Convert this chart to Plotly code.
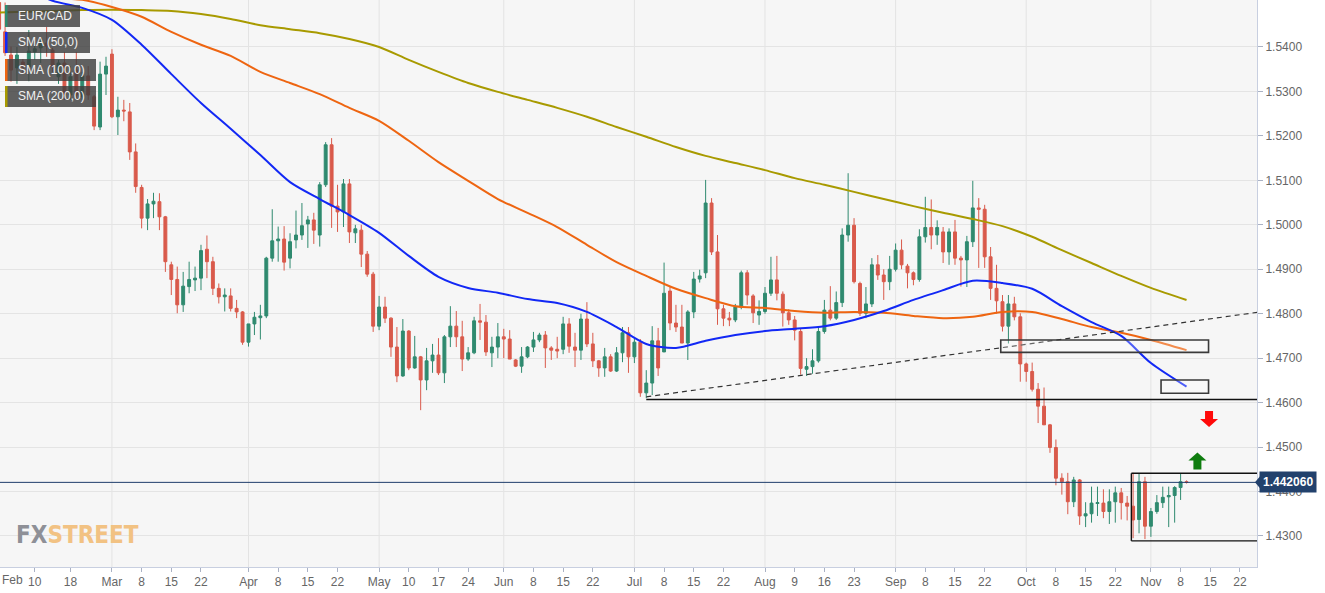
import pandas as pd
import plotly.graph_objects as go

# ---------------- data (EUR/CAD daily) ----------------
dates = pd.bdate_range("2021-02-01", "2021-11-09")

opens = [
    1.5480, 1.5500, 1.5434, 1.5382, 1.5353, 1.5366, 1.5355, 1.5389, 1.5398, 1.5409,
    1.5393, 1.5333, 1.5364, 1.5292, 1.5348, 1.5288, 1.5335, 1.5288, 1.5220, 1.5339,
    1.5384, 1.5243, 1.5258, 1.5254, 1.5164, 1.5084, 1.5015, 1.5047, 1.5052, 1.5018,
    1.4910, 1.4877, 1.4820, 1.4861, 1.4876, 1.4880, 1.4945, 1.4917, 1.4857, 1.4838,
    1.4840, 1.4812, 1.4804, 1.4736, 1.4777, 1.4791, 1.4795, 1.4925, 1.4964, 1.4968,
    1.4925, 1.4966, 1.4977, 1.5002, 1.5011, 1.4977, 1.5090, 1.5180, 1.5042, 1.5029,
    1.5092, 1.4982, 1.4988, 1.4934, 1.4889, 1.4772, 1.4815, 1.4790, 1.4725, 1.4660,
    1.4761, 1.4678, 1.4703, 1.4651, 1.4694, 1.4707, 1.4667, 1.4748, 1.4772, 1.4748,
    1.4698, 1.4712, 1.4784, 1.4781, 1.4712, 1.4725, 1.4748, 1.4743, 1.4696, 1.4682,
    1.4703, 1.4725, 1.4741, 1.4752, 1.4723, 1.4720, 1.4720, 1.4777, 1.4725, 1.4718,
    1.4788, 1.4732, 1.4694, 1.4678, 1.4703, 1.4671, 1.4712, 1.4757, 1.4703, 1.4736,
    1.4622, 1.4644, 1.4739, 1.4714, 1.4851, 1.4779, 1.4770, 1.4734, 1.4804, 1.4878,
    1.4892, 1.5049, 1.4939, 1.4811, 1.4790, 1.4786, 1.4815, 1.4892, 1.4840, 1.4797,
    1.4805, 1.4846, 1.4876, 1.4844, 1.4802, 1.4786, 1.4760, 1.4675, 1.4681, 1.4694,
    1.4760, 1.4808, 1.4790, 1.4825, 1.4977, 1.4999, 1.4868, 1.4801, 1.4822, 1.4910,
    1.4887, 1.4872, 1.4900, 1.4943, 1.4907, 1.4892, 1.4877, 1.4973, 1.4994, 1.4977,
    1.4984, 1.4939, 1.4984, 1.4925, 1.4921, 1.4962, 1.5038, 1.5035, 1.4928, 1.4857,
    1.4827, 1.4772, 1.4822, 1.4793, 1.4687, 1.4670, 1.4630, 1.4592, 1.4550, 1.4499,
    1.4430, 1.4422, 1.4377, 1.4426, 1.4345, 1.4350, 1.4373, 1.4374, 1.4355, 1.4377,
    1.4397, 1.4374, 1.4367, 1.4337, 1.4422, 1.4322, 1.4355, 1.4375, 1.4388, 1.4391,
    1.4409, 1.4422,
]
highs = [
    1.5520, 1.5530, 1.5500, 1.5401, 1.5400, 1.5373, 1.5438, 1.5407, 1.5418, 1.5445,
    1.5398, 1.5371, 1.5389, 1.5357, 1.5389, 1.5344, 1.5357, 1.5292, 1.5367, 1.5378,
    1.5395, 1.5288, 1.5281, 1.5274, 1.5183, 1.5090, 1.5058, 1.5072, 1.5071, 1.5020,
    1.4917, 1.4906, 1.4894, 1.4917, 1.4906, 1.4955, 1.4976, 1.4928, 1.4868, 1.4857,
    1.4857, 1.4831, 1.4806, 1.4777, 1.4804, 1.4820, 1.4928, 1.5035, 1.4996, 1.4997,
    1.4981, 1.5032, 1.5049, 1.5020, 1.5027, 1.5096, 1.5186, 1.5195, 1.5090, 1.5103,
    1.5103, 1.5000, 1.5000, 1.4941, 1.4894, 1.4840, 1.4838, 1.4792, 1.4770, 1.4788,
    1.4763, 1.4750, 1.4705, 1.4723, 1.4732, 1.4745, 1.4752, 1.4817, 1.4806, 1.4784,
    1.4725, 1.4793, 1.4822, 1.4797, 1.4748, 1.4779, 1.4766, 1.4763, 1.4698, 1.4725,
    1.4727, 1.4759, 1.4757, 1.4761, 1.4727, 1.4748, 1.4793, 1.4790, 1.4757, 1.4800,
    1.4826, 1.4757, 1.4696, 1.4723, 1.4709, 1.4725, 1.4770, 1.4770, 1.4745, 1.4743,
    1.4673, 1.4772, 1.4768, 1.4915, 1.4860, 1.4820, 1.4820, 1.4808, 1.4894, 1.4899,
    1.5101, 1.5060, 1.4977, 1.4820, 1.4804, 1.4822, 1.4897, 1.4898, 1.4844, 1.4830,
    1.4860, 1.4928, 1.4930, 1.4850, 1.4810, 1.4795, 1.4766, 1.4700, 1.4720, 1.4770,
    1.4831, 1.4862, 1.4850, 1.4992, 1.5116, 1.5015, 1.4872, 1.4860, 1.4925, 1.4932,
    1.4900, 1.4930, 1.4958, 1.4967, 1.4912, 1.4895, 1.4990, 1.5063, 1.5057, 1.5010,
    1.4995, 1.4992, 1.5011, 1.4930, 1.4975, 1.5099, 1.5060, 1.5045, 1.4950, 1.4910,
    1.4842, 1.4842, 1.4838, 1.4801, 1.4690, 1.4690, 1.4644, 1.4634, 1.4552, 1.4517,
    1.4441, 1.4442, 1.4433, 1.4428, 1.4376, 1.4411, 1.4411, 1.4405, 1.4405, 1.4411,
    1.4408, 1.4390, 1.4442, 1.4440, 1.4433, 1.4363, 1.4392, 1.4411, 1.4411, 1.4412,
    1.4441, 1.4425,
]
lows = [
    1.5450, 1.5430, 1.5380, 1.5322, 1.5317, 1.5339, 1.5323, 1.5371, 1.5364, 1.5378,
    1.5344, 1.5317, 1.5281, 1.5281, 1.5281, 1.5281, 1.5281, 1.5213, 1.5213, 1.5292,
    1.5240, 1.5202, 1.5233, 1.5146, 1.5072, 1.4992, 1.4988, 1.5015, 1.4988, 1.4894,
    1.4842, 1.4801, 1.4804, 1.4846, 1.4851, 1.4853, 1.4880, 1.4842, 1.4823, 1.4805,
    1.4805, 1.4790, 1.4730, 1.4726, 1.4752, 1.4742, 1.4790, 1.4917, 1.4917, 1.4897,
    1.4902, 1.4947, 1.4966, 1.4948, 1.4957, 1.4951, 1.5085, 1.4993, 1.4984, 1.4995,
    1.4959, 1.4959, 1.4905, 1.4883, 1.4759, 1.4763, 1.4779, 1.4703, 1.4646, 1.4658,
    1.4673, 1.4676, 1.4583, 1.4628, 1.4667, 1.4662, 1.4644, 1.4725, 1.4725, 1.4671,
    1.4694, 1.4709, 1.4741, 1.4705, 1.4680, 1.4700, 1.4700, 1.4698, 1.4680, 1.4667,
    1.4700, 1.4714, 1.4736, 1.4678, 1.4696, 1.4700, 1.4709, 1.4712, 1.4680, 1.4696,
    1.4725, 1.4680, 1.4658, 1.4658, 1.4669, 1.4669, 1.4691, 1.4667, 1.4689, 1.4613,
    1.4610, 1.4617, 1.4660, 1.4714, 1.4763, 1.4759, 1.4734, 1.4696, 1.4790, 1.4870,
    1.4880, 1.4932, 1.4775, 1.4772, 1.4772, 1.4781, 1.4810, 1.4820, 1.4779, 1.4775,
    1.4800, 1.4840, 1.4830, 1.4771, 1.4775, 1.4740, 1.4663, 1.4660, 1.4665, 1.4690,
    1.4755, 1.4785, 1.4786, 1.4815, 1.4962, 1.4868, 1.4795, 1.4790, 1.4815, 1.4876,
    1.4831, 1.4853, 1.4895, 1.4900, 1.4857, 1.4864, 1.4872, 1.4960, 1.4945, 1.4955,
    1.4914, 1.4910, 1.4910, 1.4861, 1.4860, 1.4950, 1.4903, 1.4903, 1.4831, 1.4800,
    1.4760, 1.4733, 1.4785, 1.4647, 1.4647, 1.4625, 1.4554, 1.4550, 1.4487, 1.4414,
    1.4393, 1.4349, 1.4365, 1.4325, 1.4320, 1.4330, 1.4345, 1.4340, 1.4327, 1.4330,
    1.4337, 1.4335, 1.4295, 1.4306, 1.4293, 1.4298, 1.4350, 1.4363, 1.4320, 1.4330,
    1.4381, 1.4418,
]
closes = [
    1.5500, 1.5440, 1.5387, 1.5348, 1.5382, 1.5355, 1.5391, 1.5396, 1.5409, 1.5402,
    1.5355, 1.5364, 1.5292, 1.5333, 1.5292, 1.5335, 1.5292, 1.5222, 1.5339, 1.5357,
    1.5243, 1.5258, 1.5256, 1.5164, 1.5086, 1.5015, 1.5047, 1.5053, 1.5018, 1.4917,
    1.4877, 1.4820, 1.4862, 1.4877, 1.4880, 1.4942, 1.4917, 1.4857, 1.4838, 1.4842,
    1.4812, 1.4804, 1.4736, 1.4777, 1.4792, 1.4795, 1.4925, 1.4964, 1.4968, 1.4916,
    1.4962, 1.4977, 1.4998, 1.5011, 1.4988, 1.5090, 1.5180, 1.5042, 1.5029, 1.5092,
    1.4984, 1.4991, 1.4934, 1.4889, 1.4772, 1.4815, 1.4790, 1.4725, 1.4660, 1.4761,
    1.4678, 1.4703, 1.4651, 1.4694, 1.4707, 1.4667, 1.4748, 1.4772, 1.4748, 1.4698,
    1.4712, 1.4784, 1.4781, 1.4714, 1.4725, 1.4748, 1.4743, 1.4698, 1.4682, 1.4703,
    1.4725, 1.4741, 1.4752, 1.4723, 1.4718, 1.4716, 1.4777, 1.4727, 1.4718, 1.4788,
    1.4732, 1.4694, 1.4678, 1.4703, 1.4671, 1.4712, 1.4757, 1.4703, 1.4736, 1.4622,
    1.4644, 1.4739, 1.4678, 1.4846, 1.4779, 1.4770, 1.4734, 1.4804, 1.4878, 1.4885,
    1.5049, 1.4939, 1.4811, 1.4790, 1.4786, 1.4815, 1.4892, 1.4842, 1.4802, 1.4805,
    1.4846, 1.4876, 1.4846, 1.4802, 1.4786, 1.4763, 1.4677, 1.4681, 1.4694, 1.4760,
    1.4808, 1.4790, 1.4825, 1.4977, 1.4999, 1.4872, 1.4801, 1.4822, 1.4910, 1.4887,
    1.4872, 1.4900, 1.4943, 1.4910, 1.4892, 1.4877, 1.4973, 1.4994, 1.4977, 1.4994,
    1.4939, 1.4984, 1.4925, 1.4921, 1.4962, 1.5038, 1.5035, 1.4928, 1.4857, 1.4829,
    1.4772, 1.4822, 1.4793, 1.4687, 1.4670, 1.4630, 1.4592, 1.4550, 1.4499, 1.4430,
    1.4422, 1.4377, 1.4426, 1.4345, 1.4350, 1.4374, 1.4375, 1.4355, 1.4377, 1.4397,
    1.4375, 1.4367, 1.4336, 1.4422, 1.4322, 1.4355, 1.4375, 1.4387, 1.4391, 1.4409,
    1.4422, 1.44206,
]

# moving averages
sma_dates = [
    "2021-02-01", "2021-02-08", "2021-02-15", "2021-02-22", "2021-03-01", "2021-03-08",
    "2021-03-15", "2021-03-22", "2021-03-29", "2021-04-05", "2021-04-12", "2021-04-19",
    "2021-04-26", "2021-05-03", "2021-05-10", "2021-05-17", "2021-05-24", "2021-05-31",
    "2021-06-07", "2021-06-14", "2021-06-21", "2021-06-28", "2021-07-05", "2021-07-12",
    "2021-07-19", "2021-07-26", "2021-08-02", "2021-08-09", "2021-08-16", "2021-08-23",
    "2021-08-30", "2021-09-06", "2021-09-13", "2021-09-20", "2021-09-27", "2021-10-04",
    "2021-10-11", "2021-10-18", "2021-10-25", "2021-11-01", "2021-11-09",
]
sma50 = [
    1.5562, 1.5533, 1.5504, 1.5488, 1.5461, 1.5405, 1.5339, 1.5274, 1.5216, 1.5157,
    1.5096, 1.5058, 1.5022, 1.4982, 1.4930, 1.4883, 1.4858, 1.4847, 1.4833, 1.4824,
    1.4804, 1.4770, 1.4732, 1.4723, 1.4739, 1.4752, 1.4761, 1.4766, 1.4772, 1.4786,
    1.4806, 1.4831, 1.4853, 1.4874, 1.4869, 1.4856, 1.4817, 1.4781, 1.4750, 1.4689,
    1.4636,
]
sma100 = [
    1.5524, 1.5517, 1.5510, 1.5506, 1.5490, 1.5468, 1.5434, 1.5405, 1.5380, 1.5344,
    1.5319, 1.5294, 1.5263, 1.5234, 1.5189, 1.5141, 1.5099, 1.5058, 1.5027, 1.4995,
    1.4955, 1.4916, 1.4885, 1.4856, 1.4835, 1.4817, 1.4813, 1.4806, 1.4802, 1.4804,
    1.4802, 1.4795, 1.4790, 1.4793, 1.4804, 1.4804, 1.4788, 1.4770, 1.4757, 1.4741,
    1.4718,
]
sma200 = [
    1.5477, 1.5479, 1.5481, 1.5483, 1.5484, 1.5483, 1.5481, 1.5474, 1.5463, 1.5449,
    1.5440, 1.5431, 1.5418, 1.5400, 1.5371, 1.5344, 1.5319, 1.5299, 1.5281, 1.5263,
    1.5243, 1.5220, 1.5198, 1.5175, 1.5155, 1.5139, 1.5123, 1.5105, 1.5090, 1.5074,
    1.5058, 1.5042, 1.5027, 1.5013, 1.4997, 1.4973, 1.4943, 1.4914, 1.4885, 1.4858,
    1.4831,
]

tick_dates = [
    "2021-02-10", "2021-02-18", "2021-03-01", "2021-03-08", "2021-03-15", "2021-03-22",
    "2021-04-01", "2021-04-08", "2021-04-15", "2021-04-22", "2021-05-03", "2021-05-10",
    "2021-05-17", "2021-05-24", "2021-06-01", "2021-06-08", "2021-06-15", "2021-06-22",
    "2021-07-01", "2021-07-08", "2021-07-15", "2021-07-22", "2021-08-02", "2021-08-09",
    "2021-08-16", "2021-08-23", "2021-09-01", "2021-09-08", "2021-09-15", "2021-09-22",
    "2021-10-01", "2021-10-08", "2021-10-15", "2021-10-22", "2021-11-01", "2021-11-08",
    "2021-11-15", "2021-11-22",
]
tick_text = [
    "10", "18", "Mar", "8", "15", "22", "Apr", "8", "15", "22", "May", "10", "17", "24",
    "Jun", "8", "15", "22", "Jul", "8", "15", "22", "Aug", "9", "16", "23", "Sep", "8",
    "15", "22", "Oct", "8", "15", "22", "Nov", "8", "15", "22",
]
month_dates = ["2021-03-01", "2021-04-01", "2021-05-03", "2021-06-01", "2021-07-01",
               "2021-08-02", "2021-09-01", "2021-10-01", "2021-11-01"]
y_ticks = [1.43, 1.44, 1.45, 1.46, 1.47, 1.48, 1.49, 1.50, 1.51, 1.52, 1.53, 1.54]

last_price = 1.44206
x_start, x_end = "2021-02-02 03:29", "2021-11-24 20:53"
y_min, y_max = 1.42302, 1.55057

# drawn levels
support_level = 1.4607
trend_start, trend_y0, trend_y1 = "2021-07-05", 1.4613, 1.4803
zone1 = ("2021-09-24 17:00", "2021-11-12 17:00", 1.4713, 1.4741)
zone2 = ("2021-11-02 17:00", "2021-11-12 17:00", 1.4621, 1.4651)
range_box = ("2021-10-26 17:00", 1.4289, 1.4441)

# ---------------- figure ----------------
W, H = 1325, 593
ML, MR, MT, MB = 0, 68, 0, 26
PW, PH = W - ML - MR, H - MT - MB
FONT = "Liberation Sans, Arial, sans-serif"


def px(x):
    return x / PW


def py(y):
    return 1 - y / PH


fig = go.Figure()
fig.add_trace(go.Candlestick(
    x=dates, open=opens, high=highs, low=lows, close=closes,
    increasing=dict(line=dict(color="#2f8a6f", width=1), fillcolor="#2f8a6f"),
    decreasing=dict(line=dict(color="#d95a4b", width=1), fillcolor="#d95a4b"),
    showlegend=False, hoverinfo="skip",
))
for vals, col in ((sma200, "#a89a00"), (sma100, "#ee6511"), (sma50, "#1228f5")):
    fig.add_trace(go.Scatter(
        x=sma_dates, y=vals, mode="lines",
        line=dict(color=col, width=2, shape="spline", smoothing=0.8),
        showlegend=False, hoverinfo="skip",
    ))

shapes = []
for d in month_dates:
    shapes.append(dict(type="line", xref="x", yref="paper", x0=d, x1=d, y0=0, y1=1,
                       line=dict(color="#e3e3e3", width=1), layer="below"))
# current price line
shapes.append(dict(type="line", xref="paper", yref="y", x0=0, x1=1, y0=last_price,
                   y1=last_price, line=dict(color="#1f3d6b", width=1)))
# support line + trend line
shapes.append(dict(type="line", xref="x", yref="y", x0=trend_start, x1=x_end,
                   y0=support_level, y1=support_level, line=dict(color="#111", width=1.3)))
shapes.append(dict(type="line", xref="x", yref="y", x0=trend_start, x1=x_end,
                   y0=trend_y0, y1=trend_y1, line=dict(color="#333", width=1.2, dash="5px,4px")))
# zones
for z in (zone1, zone2):
    shapes.append(dict(type="rect", xref="x", yref="y", x0=z[0], x1=z[1], y0=z[2], y1=z[3],
                       line=dict(color="#3a3a3a", width=1.6), fillcolor="rgba(255,255,255,0.25)"))
# consolidation range box (open on the right)
rb_x, rb_lo, rb_hi = range_box
for y0, y1, x1 in ((rb_lo, rb_lo, x_end), (rb_hi, rb_hi, x_end), (rb_lo, rb_hi, rb_x)):
    shapes.append(dict(type="line", xref="x", yref="y", x0=rb_x, x1=x1, y0=y0, y1=y1,
                       line=dict(color="#111", width=1.4)))
# arrows
shapes.append(dict(type="path", xref="x", yref="y", xsizemode="pixel", ysizemode="pixel",
                   xanchor="2021-11-12 19:00", yanchor=1.4563,
                   path="M-4,8 L4,8 L4,0 L9,0 L0,-8 L-9,0 L-4,0 Z",
                   fillcolor="#ff0a0a", line=dict(width=0)))
shapes.append(dict(type="path", xref="x", yref="y", xsizemode="pixel", ysizemode="pixel",
                   xanchor="2021-11-10 20:00", yanchor=1.4470,
                   path="M-4,-9 L4,-9 L4,0 L9,0 L0,8 L-9,0 L-4,0 Z",
                   fillcolor="#0f7d0f", line=dict(width=0)))
# notch of the last-price tag
shapes.append(dict(type="path", xref="paper", yref="y", xsizemode="pixel", ysizemode="pixel",
                   xanchor=1, yanchor=last_price, path="M-2,0 L3,6 L3,-6 Z",
                   fillcolor="#22416c", line=dict(width=0)))

# legend boxes (top-left)
legend_items = [("EUR/CAD", "#2f8a6f", 5, 80, 5, 27),
                ("SMA (50,0)", "#1228f5", 5, 90, 32, 53),
                ("SMA (100,0)", "#ee6511", 5, 96, 59, 81),
                ("SMA (200,0)", "#a89a00", 5, 96, 86, 107)]
annotations = []
for label, col, x0, x1, y0, y1 in legend_items:
    shapes.append(dict(type="rect", xref="paper", yref="paper", x0=px(x0), x1=px(x1),
                       y0=py(y1), y1=py(y0), fillcolor="rgba(62,62,62,0.82)",
                       line=dict(width=0), layer="above"))
    shapes.append(dict(type="rect", xref="paper", yref="paper", x0=px(x0), x1=px(x0 + 2.5),
                       y0=py(y1), y1=py(y0), fillcolor=col, line=dict(width=0), layer="above"))
    annotations.append(dict(xref="paper", yref="paper", x=px(16), y=py((y0 + y1) / 2),
                            xanchor="left", yanchor="middle", text=label, showarrow=False,
                            font=dict(family=FONT, size=12, color="#f2f2f2")))

# watermark
annotations.append(dict(xref="paper", yref="paper", x=px(14), y=py(535), xanchor="left",
                        yanchor="middle", showarrow=False,
                        text="<b><span style='color:#8e9097'>FX</span>"
                             "<span style='color:#f2c283'>STREET</span></b>",
                        font=dict(family="Liberation Sans Narrow, DejaVu Sans Condensed, sans-serif",
                                  size=24)))
# "Feb" label at the clipped left edge
annotations.append(dict(xref="paper", yref="paper", x=0, y=py(580), xanchor="left",
                        yanchor="middle", showarrow=False, text="Feb",
                        font=dict(family=FONT, size=12, color="#666")))
# last price tag
annotations.append(dict(xref="paper", yref="y", x=1, y=last_price, xanchor="left",
                        yanchor="middle", xshift=2, showarrow=False,
                        text="<b>1.442060</b>", bgcolor="#22416c", borderpad=3,
                        font=dict(family=FONT, size=12, color="#ffffff")))

fig.update_layout(
    width=W, height=H,
    margin=dict(l=ML, r=MR, t=MT, b=MB),
    paper_bgcolor="#ffffff", plot_bgcolor="#f6f6f6",
    shapes=shapes, annotations=annotations,
    showlegend=False,
    xaxis=dict(
        type="date", range=[x_start, x_end],
        rangebreaks=[dict(bounds=["sat", "mon"])],
        rangeslider=dict(visible=False),
        tickmode="array", tickvals=tick_dates, ticktext=tick_text,
        showgrid=False, ticks="outside", ticklen=4, tickcolor="#aab2c4",
        tickfont=dict(family=FONT, size=12, color="#666"),
        showline=True, linecolor="#c8cfe0", mirror=True, zeroline=False,
    ),
    yaxis=dict(
        side="right", range=[y_min, y_max],
        tickmode="array", tickvals=y_ticks, tickformat=".4f",
        showgrid=True, gridcolor="#e4e4e4", gridwidth=1,
        ticks="outside", ticklen=5, tickcolor="#aab2c4",
        tickfont=dict(family=FONT, size=12, color="#666"),
        showline=True, linecolor="#c8cfe0", mirror=True, zeroline=False,
    ),
)

fig.write_html("out.html")
